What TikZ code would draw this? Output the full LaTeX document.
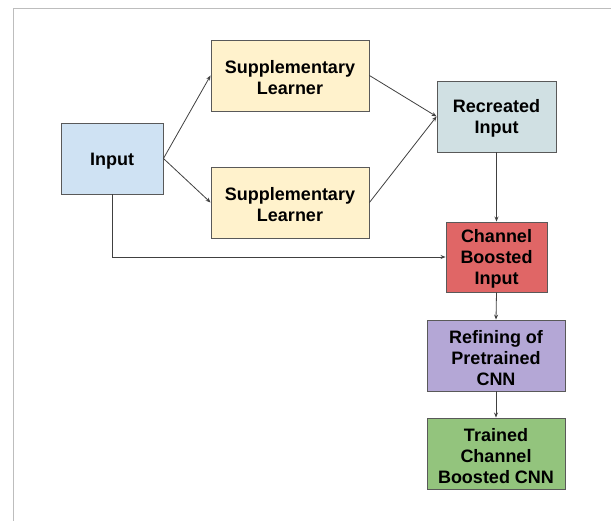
\documentclass[tikz,border=0pt]{standalone}
\usepackage{fontspec}
\setmainfont{Liberation Sans}
\usetikzlibrary{arrows.meta}
\definecolor{inblue}{HTML}{CFE2F3}
\definecolor{suppyellow}{HTML}{FFF2CC}
\definecolor{recgray}{HTML}{D0E0E3}
\definecolor{boostred}{HTML}{E06666}
\definecolor{refpurple}{HTML}{B4A7D6}
\definecolor{trgreen}{HTML}{93C47D}
\definecolor{edgegray}{HTML}{595959}
\definecolor{linegray}{HTML}{404040}
\definecolor{framegray}{HTML}{BDBDBD}
% invisible strut that lowers the text block a little inside its box
\newcommand{\tstrut}{\rule{0pt}{17.5pt}}
\begin{document}
\begin{tikzpicture}[x=1pt,y=-1pt,
  box/.style={draw=edgegray,line width=0.9pt,align=center,inner sep=0pt,
    font=\fontsize{18}{21}\selectfont\bfseries},
  link/.style={draw=linegray,line width=0.8pt,-{Stealth[length=5pt,width=4pt]}}]
  \useasboundingbox (0,0) rectangle (611,521);
  % page frame
  \draw[framegray,line width=1pt] (13,521) -- (13,9) -- (611,9);
  % boxes (centres in pixels, y pointing down)
  \node[box,fill=inblue,minimum width=102pt,minimum height=71pt] (inp) at (112,158.5) {\tstrut Input};
  \node[box,fill=suppyellow,minimum width=158pt,minimum height=71pt] (s1) at (290,75.5) {\tstrut Supplementary\\Learner};
  \node[box,fill=suppyellow,minimum width=158pt,minimum height=71pt] (s2) at (290,202.5) {\tstrut Supplementary\\Learner};
  \node[box,fill=recgray,minimum width=119pt,minimum height=71pt] (rec) at (496.5,116.5) {\tstrut Recreated\\Input};
  \node[box,fill=boostred,minimum width=101pt,minimum height=70pt] (cbi) at (496.5,257) {\tstrut Channel\\Boosted\\Input};
  \node[box,fill=refpurple,minimum width=138pt,minimum height=71pt] (ref) at (496,355.5) {\tstrut Refining of\\Pretrained\\CNN};
  \node[box,fill=trgreen,minimum width=138pt,minimum height=71pt] (tr) at (496,453.5) {\tstrut Trained\\Channel\\Boosted CNN};
  % connectors
  \draw[link] (inp.east) -- (s1.west);
  \draw[link] (inp.east) -- (s2.west);
  \draw[link] (s1.east) -- (rec.west);
  \draw[link] (s2.east) -- (rec.west);
  \draw[link] (rec.south) -- (cbi.north);
  \draw[link] (inp.south) |- (cbi.west);
  \draw[link] (cbi.south) -- (ref.north);
  \draw[link] (ref.south) -- (tr.north);
\end{tikzpicture}
\end{document}
